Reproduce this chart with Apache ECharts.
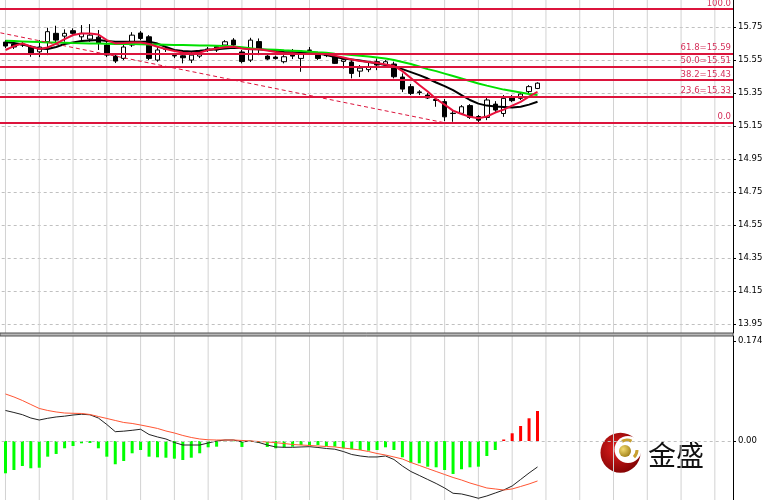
<!DOCTYPE html>
<html><head><meta charset="utf-8">
<script src="https://cdn.jsdelivr.net/npm/echarts@6/dist/echarts.min.js"></script>
<style>html,body{margin:0;padding:0;background:#fff}#c{width:765px;height:500px}</style>
</head><body><div id="c"></div>
<script>
// OHLC: [open, close, low, high]
const candles = [
[15.659,15.635,15.623,15.671],[15.647,15.629,15.617,15.665],[15.641,15.647,15.629,15.659],[15.631,15.592,15.570,15.641],
[15.600,15.629,15.568,15.671],[15.661,15.722,15.580,15.746],[15.712,15.671,15.651,15.758],[15.695,15.712,15.661,15.736],
[15.728,15.712,15.695,15.742],[15.691,15.712,15.671,15.762],[15.677,15.701,15.661,15.768],[15.689,15.653,15.611,15.732],
[15.641,15.580,15.568,15.659],[15.574,15.544,15.532,15.586],[15.560,15.629,15.550,15.641],[15.641,15.701,15.629,15.719],
[15.714,15.681,15.671,15.726],[15.691,15.560,15.550,15.701],[15.550,15.611,15.540,15.629],[15.618,15.616,15.599,15.629],
[15.578,15.575,15.562,15.592],[15.576,15.564,15.530,15.591],[15.550,15.580,15.532,15.599],[15.574,15.600,15.562,15.611],
[15.611,15.617,15.599,15.629],[15.631,15.611,15.599,15.641],[15.641,15.661,15.629,15.671],[15.671,15.641,15.635,15.683],
[15.599,15.541,15.530,15.611],[15.550,15.671,15.538,15.685],[15.662,15.617,15.580,15.681],[15.574,15.556,15.550,15.580],
[15.568,15.559,15.553,15.577],[15.540,15.570,15.530,15.580],[15.595,15.574,15.556,15.617],[15.560,15.584,15.479,15.599],
[15.608,15.611,15.592,15.629],[15.580,15.560,15.550,15.586],[15.580,15.577,15.568,15.586],[15.570,15.530,15.526,15.580],
[15.542,15.552,15.499,15.563],[15.538,15.469,15.439,15.550],[15.483,15.501,15.447,15.520],[15.492,15.509,15.477,15.538],
[15.540,15.520,15.489,15.560],[15.520,15.540,15.509,15.550],[15.526,15.449,15.439,15.540],[15.447,15.374,15.356,15.469],
[15.389,15.348,15.338,15.405],[15.357,15.353,15.338,15.368],[15.338,15.320,15.314,15.350],[15.311,15.305,15.267,15.326],
[15.298,15.206,15.180,15.314],[15.228,15.226,15.176,15.247],[15.227,15.267,15.217,15.277],[15.274,15.202,15.193,15.283],
[15.208,15.186,15.170,15.217],[15.202,15.308,15.186,15.320],[15.283,15.247,15.229,15.301],[15.226,15.318,15.206,15.338],
[15.326,15.304,15.295,15.338],[15.318,15.344,15.308,15.356],[15.359,15.389,15.350,15.398],[15.378,15.410,15.374,15.415]
];
const maRed = [15.611,15.635,15.650,15.632,15.617,15.626,15.650,15.677,15.702,15.711,15.711,15.705,15.671,15.651,15.653,15.656,
15.657,15.647,15.631,15.617,15.605,15.595,15.591,15.595,15.611,15.620,15.627,15.631,15.620,15.615,15.615,15.608,
15.599,15.592,15.591,15.586,15.589,15.589,15.586,15.577,15.565,15.553,15.544,15.538,15.532,15.523,15.514,15.483,
15.441,15.399,15.359,15.314,15.280,15.244,15.223,15.206,15.197,15.208,15.232,15.250,15.274,15.297,15.329,15.358];
const maBlack = [15.659,15.653,15.644,15.632,15.620,15.617,15.629,15.647,15.657,15.665,15.668,15.671,15.665,15.661,15.661,15.661,
15.661,15.661,15.650,15.629,15.611,15.605,15.602,15.606,15.611,15.615,15.620,15.625,15.623,15.617,15.615,15.611,
15.605,15.599,15.597,15.595,15.592,15.589,15.580,15.568,15.559,15.553,15.547,15.538,15.530,15.520,15.509,15.495,
15.477,15.459,15.438,15.414,15.392,15.368,15.338,15.308,15.286,15.274,15.268,15.265,15.262,15.267,15.280,15.297];
const maGreen = [15.667,15.665,15.663,15.661,15.659,15.657,15.656,15.655,15.653,15.652,15.651,15.650,15.649,15.648,15.647,15.647,
15.646,15.645,15.644,15.643,15.642,15.641,15.640,15.639,15.638,15.637,15.635,15.632,15.627,15.621,15.615,15.614,
15.612,15.609,15.607,15.605,15.601,15.597,15.594,15.589,15.585,15.580,15.576,15.571,15.565,15.559,15.550,15.538,
15.526,15.511,15.495,15.483,15.468,15.453,15.438,15.423,15.408,15.395,15.383,15.371,15.362,15.353,15.344,15.338];
const macdHist = [-0.0562,-0.0505,-0.0435,-0.0475,-0.0465,-0.0273,-0.0226,-0.0127,-0.0087,-0.0040,-0.0035,-0.0127,-0.0273,-0.0405,-0.0348,-0.0214,
-0.0157,-0.0273,-0.0284,-0.0291,-0.0308,-0.0331,-0.0291,-0.0214,-0.0110,-0.0099,-0.0012,-0.0005,-0.0104,-0.0017,-0.0030,-0.0104,
-0.0127,-0.0110,-0.0099,-0.0070,-0.0070,-0.0070,-0.0087,-0.0099,-0.0127,-0.0144,-0.0157,-0.0169,-0.0157,-0.0110,-0.0157,-0.0284,
-0.0378,-0.0388,-0.0447,-0.0458,-0.0505,-0.0574,-0.0492,-0.0458,-0.0447,-0.0261,-0.0157,0.0026,0.0134,0.0261,0.0395,0.0522];
const macdLine = [0.0531,0.0496,0.0458,0.0400,0.0365,0.0395,0.0418,0.0432,0.0452,0.0465,0.0456,0.0400,0.0287,0.0162,0.0171,0.0186,
0.0204,0.0113,0.0070,0.0035,-0.0026,-0.0070,-0.0070,-0.0070,-0.0035,0.0000,0.0017,0.0017,-0.0017,0.0000,-0.0026,-0.0070,
-0.0104,-0.0110,-0.0110,-0.0104,-0.0099,-0.0113,-0.0131,-0.0143,-0.0183,-0.0235,-0.0261,-0.0278,-0.0278,-0.0261,-0.0322,-0.0435,
-0.0531,-0.0600,-0.0670,-0.0740,-0.0818,-0.0910,-0.0922,-0.0957,-0.0997,-0.0957,-0.0905,-0.0853,-0.0783,-0.0670,-0.0557,-0.0452];
const macdSignal = [0.0818,0.0766,0.0705,0.0635,0.0566,0.0531,0.0505,0.0487,0.0482,0.0479,0.0461,0.0426,0.0392,0.0357,0.0322,0.0305,
0.0278,0.0249,0.0218,0.0174,0.0139,0.0096,0.0061,0.0035,0.0021,0.0017,0.0017,0.0017,0.0009,0.0000,-0.0009,-0.0017,
-0.0030,-0.0044,-0.0061,-0.0070,-0.0078,-0.0087,-0.0096,-0.0104,-0.0122,-0.0139,-0.0157,-0.0183,-0.0218,-0.0244,-0.0278,-0.0313,
-0.0374,-0.0426,-0.0479,-0.0531,-0.0583,-0.0635,-0.0679,-0.0731,-0.0774,-0.0818,-0.0835,-0.0853,-0.0835,-0.0792,-0.0748,-0.0696];
const priceTicks = [13.95,14.15,14.35,14.55,14.75,14.95,15.15,15.35,15.55,15.75];
const macdTicks = [-0.103,0,0.174];
const fibPrices = [15.170,15.332,15.432,15.513,15.593,15.855];
const fibLabels = ['0.0','23.6=15.33','38.2=15.43','50.0=15.51','61.8=15.59','100.0'];
const trendLine = [[-0.6,15.715],[52,15.170]];
const lastPriceLabel = '15.41';
const gridBarIndex = [0,4,8,12,16,20,24,28,32,36,40,44,48,52,56,60,64,68,72,76,80,84];

const FONT = 'DejaVu Sans';
const GRID_C = '#c0c0c0';
const VGRID_C = '#d2d2d2';
const FIB_C = '#dc143c';
const idx = a => a.map((v,i)=>[i,v]);
const P_MIN = 13.896, P_MAX = 15.914, M_MIN = -0.1027, M_MAX = 0.1827;

// vertical grid as broken line series (one segment per grid bar)
const vSeg = (lo, hi) => {
  const out = [];
  gridBarIndex.forEach(i => { out.push([i, lo], [i, hi], [i, '-']); });
  return out;
};

const chart = echarts.init(document.getElementById('c'), null, {renderer:'canvas'});
const mkX = g => ({type:'value', gridIndex:g, min:-4, max:86.15,
  axisLine:{show:false, onZero:false}, axisTick:{show:false}, axisLabel:{show:false},
  splitLine:{show:false}});
const logo = {type:'group', silent:true, z:20, children:[
  {type:'circle', shape:{cx:620.5, cy:452.7, r:20},
   style:{fill:new echarts.graphic.RadialGradient(0.4,0.4,0.7,[{offset:0,color:'#e02020'},{offset:1,color:'#7a0000'}])}},
  {type:'circle', shape:{cx:628, cy:449.5, r:13.5}, style:{fill:'#fff'}},
  {type:'circle', shape:{cx:625, cy:451, r:6},
   style:{fill:new echarts.graphic.RadialGradient(0.35,0.35,0.7,[{offset:0,color:'#f4dc70'},{offset:1,color:'#a08018'}])}},
  {type:'arc', shape:{cx:627, cy:450, r:10, startAngle:-2.1, endAngle:-1.1, clockwise:true}, style:{stroke:'#c8a030', lineWidth:3, fill:null}},
  {type:'arc', shape:{cx:627, cy:450, r:10, startAngle:0.0, endAngle:0.8, clockwise:true}, style:{stroke:'#c8a030', lineWidth:3, fill:null}},
  {type:'text', style:{text:'金盛', x:648, y:455, font:'28px "Noto Sans CJK SC"', fill:'#111', verticalAlign:'middle'}}
]};
const separator = {type:'rect', shape:{x:0, y:333, width:733, height:3}, style:{fill:'#b8b8b8', stroke:'#505050', lineWidth:1}, silent:true, z:10};
const option = {
  animation:false,
  backgroundColor:'#fff',
  grid:[
    {left:-28.3, right:32, top:0, height:333, containLabel:false, outerBoundsMode:'none'},
    {left:-28.3, right:32, top:336, height:164, containLabel:false, outerBoundsMode:'none'}
  ],
  xAxis:[mkX(0), mkX(1)],
  yAxis:[
    {type:'value', gridIndex:0, position:'right', min:P_MIN, max:P_MAX,
     axisLine:{show:true, onZero:false, lineStyle:{color:'#000', width:1}},
     axisTick:{show:true, length:3, customValues:priceTicks, lineStyle:{color:'#000'}},
     axisLabel:{customValues:priceTicks, formatter:v=>v.toFixed(2), fontSize:8.5, color:'#000', margin:5, fontFamily:FONT},
     splitLine:{show:true, lineStyle:{color:GRID_C, type:[3,3], width:1}}},
    {type:'value', gridIndex:1, position:'right', min:M_MIN, max:M_MAX,
     axisLine:{show:true, onZero:false, lineStyle:{color:'#000', width:1}},
     axisTick:{show:true, length:3, customValues:macdTicks, lineStyle:{color:'#000'}},
     axisLabel:{customValues:macdTicks, formatter:v=>(v===0?'0.00':v.toFixed(3)), fontSize:8.5, color:'#000', margin:5, fontFamily:FONT},
     splitLine:{show:false}}
  ],
  series:[
    {type:'line', xAxisIndex:0, yAxisIndex:0, data:vSeg(P_MIN, P_MAX), symbol:'none', connectNulls:false, silent:true, z:1,
     lineStyle:{color:VGRID_C, width:1, type:'solid'}},
    {type:'line', xAxisIndex:1, yAxisIndex:1, data:vSeg(M_MIN, M_MAX), symbol:'none', connectNulls:false, silent:true, z:1,
     lineStyle:{color:VGRID_C, width:1, type:'solid'}},
    {type:'candlestick', xAxisIndex:0, yAxisIndex:0, barWidth:5,
     data:candles.map((d,i)=>[i,d[0],d[1],d[2],d[3]]), encode:{x:0, y:[1,2,3,4]},
     clip:false,
     itemStyle:{color:'#ffffff', color0:'#000000', borderColor:'#000000', borderColor0:'#000000', borderWidth:1},
     markLine:{symbol:'none', silent:true, animation:false,
       data:[
         ...fibPrices.map((p,i)=>({yAxis:p, lineStyle:{color:FIB_C, width:2, type:'solid'},
            label:{show:true, position:'insideEndTop', formatter:fibLabels[i], color:'#d4305a', fontSize:8.5, fontFamily:FONT, distance:[2,1]}})),
         [{coord:trendLine[0], lineStyle:{color:FIB_C, width:1, type:[4,3]}, label:{show:false}}, {coord:trendLine[1]}],
         {yAxis:candles[candles.length-1][1], lineStyle:{opacity:0},
          label:{show:true, position:'end', formatter:lastPriceLabel, color:'#fff', backgroundColor:'#000',
                 padding:[2,2,1,2], fontSize:8.5, fontWeight:'bold', fontFamily:FONT, distance:1}}
       ]}},
    {type:'line', xAxisIndex:0, yAxisIndex:0, data:idx(maBlack), symbol:'none', lineStyle:{color:'#000', width:2}},
    {type:'line', xAxisIndex:0, yAxisIndex:0, data:idx(maGreen), symbol:'none', lineStyle:{color:'#00e000', width:2}},
    {type:'line', xAxisIndex:0, yAxisIndex:0, data:idx(maRed), symbol:'none', lineStyle:{color:'#e8103c', width:2}},
    {type:'bar', xAxisIndex:1, yAxisIndex:1, barWidth:3, data:idx(macdHist),
     itemStyle:{color:p=>p.value[1]>=0?'#ff0000':'#00ff00'},
     markLine:{symbol:'none', silent:true, animation:false, label:{show:false},
       lineStyle:{color:GRID_C, type:[3,3], width:1}, data:[{yAxis:0}]}},
    {type:'line', xAxisIndex:1, yAxisIndex:1, data:idx(macdLine), symbol:'none', lineStyle:{color:'#222', width:1}},
    {type:'line', xAxisIndex:1, yAxisIndex:1, data:idx(macdSignal), symbol:'none', lineStyle:{color:'#ff5533', width:1}}
  ],
  graphic:[separator, logo]
};
chart.setOption(option);
</script></body></html>
